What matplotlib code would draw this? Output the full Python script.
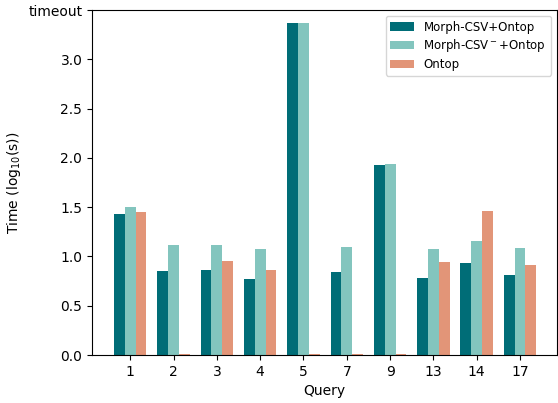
import numpy as np
import matplotlib
matplotlib.use("Agg")
import matplotlib.pyplot as plt

queries = ["1", "2", "3", "4", "5", "7", "9", "13", "14", "17"]
morph_csv = [1.43, 0.85, 0.86, 0.77, 3.37, 0.84, 1.925, 0.78, 0.93, 0.81]
morph_csv_minus = [1.50, 1.12, 1.12, 1.08, 3.37, 1.10, 1.935, 1.08, 1.155, 1.09]
ontop = [1.45, 0.01, 0.95, 0.86, 0.01, 0.01, 0.01, 0.94, 1.46, 0.91]

ytick_vals = [0.0, 0.5, 1.0, 1.5, 2.0, 2.5, 3.0, 3.5]
ytick_labels = ["0.0", "0.5", "1.0", "1.5", "2.0", "2.5", "3.0", "timeout"]

fig = plt.figure(figsize=(5.58, 4.03), dpi=100)
ax = fig.add_axes([0.165, 0.119, 0.833, 0.856])

x = np.arange(len(queries))
w = 0.25
ax.bar(x - w, morph_csv, w, color="#006d77", label="Morph-CSV+Ontop")
ax.bar(x, morph_csv_minus, w, color="#83c5be", label="Morph-CSV$^-$+Ontop")
ax.bar(x + w, ontop, w, color="#e29578", label="Ontop")

ax.set_xticks(x)
ax.set_xticklabels(queries)
ax.set_xlim(-0.88, 9.85)
ax.set_ylim(0, 3.5)
ax.set_yticks(ytick_vals)
ax.set_yticklabels(ytick_labels)
ax.set_xlabel("Query")
ax.set_ylabel("Time (log$_{10}$(s))")
ax.legend(loc="upper right", fontsize=8.5, labelspacing=0.3)

fig.savefig("out.png", dpi=100)
